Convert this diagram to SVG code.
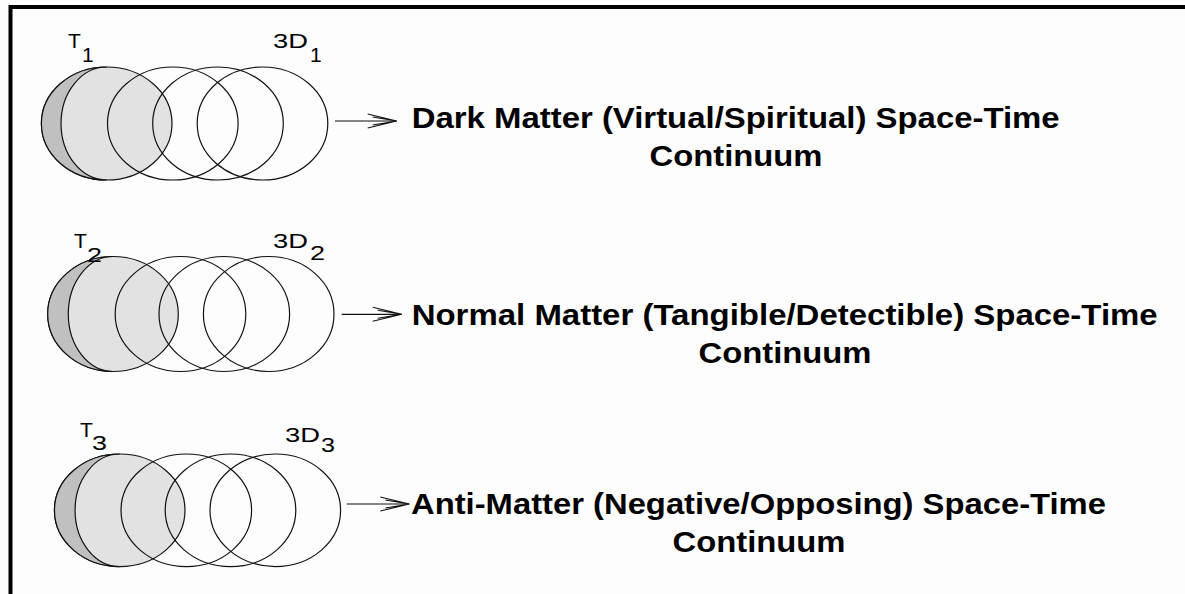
<svg xmlns="http://www.w3.org/2000/svg" width="1185" height="594" viewBox="0 0 1185 594">
<defs>
<style>
.bg{fill:#fdfdfd}
.frame{fill:none;stroke:#000;stroke-width:4}
.e1{fill:#e2e2e2;stroke:#111;stroke-width:1.2}
.cr{fill:#c0c0c0;stroke:#111;stroke-width:1.2}
.e{fill:none;stroke:#111;stroke-width:1.2}
.lbl{font-family:"Liberation Sans",Arial,sans-serif;font-size:21px;fill:#000}
.txt{font-family:"Liberation Sans",Arial,sans-serif;font-size:29px;font-weight:bold;fill:#000}
.conn{fill:none;stroke:#111;stroke-width:1.2}
</style>
<marker id="arr" viewBox="-32 -9 34 18" refX="0" refY="0" markerWidth="34" markerHeight="18" markerUnits="userSpaceOnUse" orient="auto">
<path d="M-29,-7 L0,0 L-29,7 M-24,-4 L0,0 L-24,4" fill="none" stroke="#111" stroke-width="1.1"/>
</marker>
</defs>
<rect class="bg" x="0" y="0" width="1185" height="594"/>
<path class="frame" d="M10.5,594 V7 H1185"/>

<g id="row1">
<ellipse class="e1" cx="106.7" cy="123.5" rx="65.3" ry="56.5"/>
<path class="cr" d="M106.7,67 A65.3,56.5 0 0 0 106.7,180 A45.7,56.5 0 0 1 106.7,67 Z"/>
<ellipse class="e" cx="172.8" cy="123.5" rx="65.3" ry="56.5"/>
<ellipse class="e" cx="218" cy="123.5" rx="65.3" ry="56.5"/>
<ellipse class="e" cx="262.5" cy="123.5" rx="65.3" ry="56.5"/>
<text class="lbl" x="68" y="48">T</text>
<text class="lbl" x="82" y="62">1</text>
<text class="lbl" x="273" y="48" textLength="35" lengthAdjust="spacingAndGlyphs">3D</text>
<text class="lbl" x="310" y="62">1</text>
<text class="txt" x="411.7" y="128.3" textLength="648" lengthAdjust="spacingAndGlyphs">Dark Matter (Virtual/Spiritual) Space-Time</text>
<text class="txt" x="736" y="166" text-anchor="middle" textLength="173" lengthAdjust="spacingAndGlyphs">Continuum</text>
</g>

<g id="row2">
<ellipse class="e1" cx="113" cy="314" rx="65.3" ry="57.5"/>
<path class="cr" d="M113,256.5 A65.3,57.5 0 0 0 113,371.5 A44.7,57.5 0 0 1 113,256.5 Z"/>
<ellipse class="e" cx="180.5" cy="314" rx="65.3" ry="57.5"/>
<ellipse class="e" cx="224.3" cy="314" rx="65.3" ry="57.5"/>
<ellipse class="e" cx="268.7" cy="314" rx="65.3" ry="57.5"/>
<text class="lbl" x="74" y="248">T</text>
<text class="lbl" x="87" y="262" textLength="15" lengthAdjust="spacingAndGlyphs">2</text>
<text class="lbl" x="273" y="248" textLength="35" lengthAdjust="spacingAndGlyphs">3D</text>
<text class="lbl" x="310" y="260" textLength="15" lengthAdjust="spacingAndGlyphs">2</text>
<text class="txt" x="411.7" y="325" textLength="746" lengthAdjust="spacingAndGlyphs">Normal Matter (Tangible/Detectible) Space-Time</text>
<text class="txt" x="785" y="363" text-anchor="middle" textLength="173" lengthAdjust="spacingAndGlyphs">Continuum</text>
</g>

<g id="row3">
<ellipse class="e1" cx="119.7" cy="510.3" rx="65.3" ry="56.3"/>
<path class="cr" d="M119.7,454 A65.3,56.3 0 0 0 119.7,566.6 A44.7,56.3 0 0 1 119.7,454 Z"/>
<ellipse class="e" cx="186.3" cy="510.3" rx="65.3" ry="56.3"/>
<ellipse class="e" cx="230.5" cy="510.3" rx="65.3" ry="56.3"/>
<ellipse class="e" cx="275.3" cy="510.3" rx="65.3" ry="56.3"/>
<text class="lbl" x="80" y="437">T</text>
<text class="lbl" x="92" y="450" textLength="15" lengthAdjust="spacingAndGlyphs">3</text>
<text class="lbl" x="285" y="442" textLength="35" lengthAdjust="spacingAndGlyphs">3D</text>
<text class="lbl" x="321" y="452" textLength="14" lengthAdjust="spacingAndGlyphs">3</text>
<text class="txt" x="411" y="514" textLength="695" lengthAdjust="spacingAndGlyphs">Anti-Matter (Negative/Opposing) Space-Time</text>
<text class="txt" x="759" y="552" text-anchor="middle" textLength="173" lengthAdjust="spacingAndGlyphs">Continuum</text>
</g>

<g id="connectors">
<line class="conn" x1="335" y1="121" x2="396.7" y2="121" marker-end="url(#arr)"/>
<line class="conn" x1="341.7" y1="314.3" x2="401.7" y2="314.3" marker-end="url(#arr)"/>
<line class="conn" x1="346.7" y1="504" x2="409.3" y2="504" marker-end="url(#arr)"/>
</g>
</svg>
